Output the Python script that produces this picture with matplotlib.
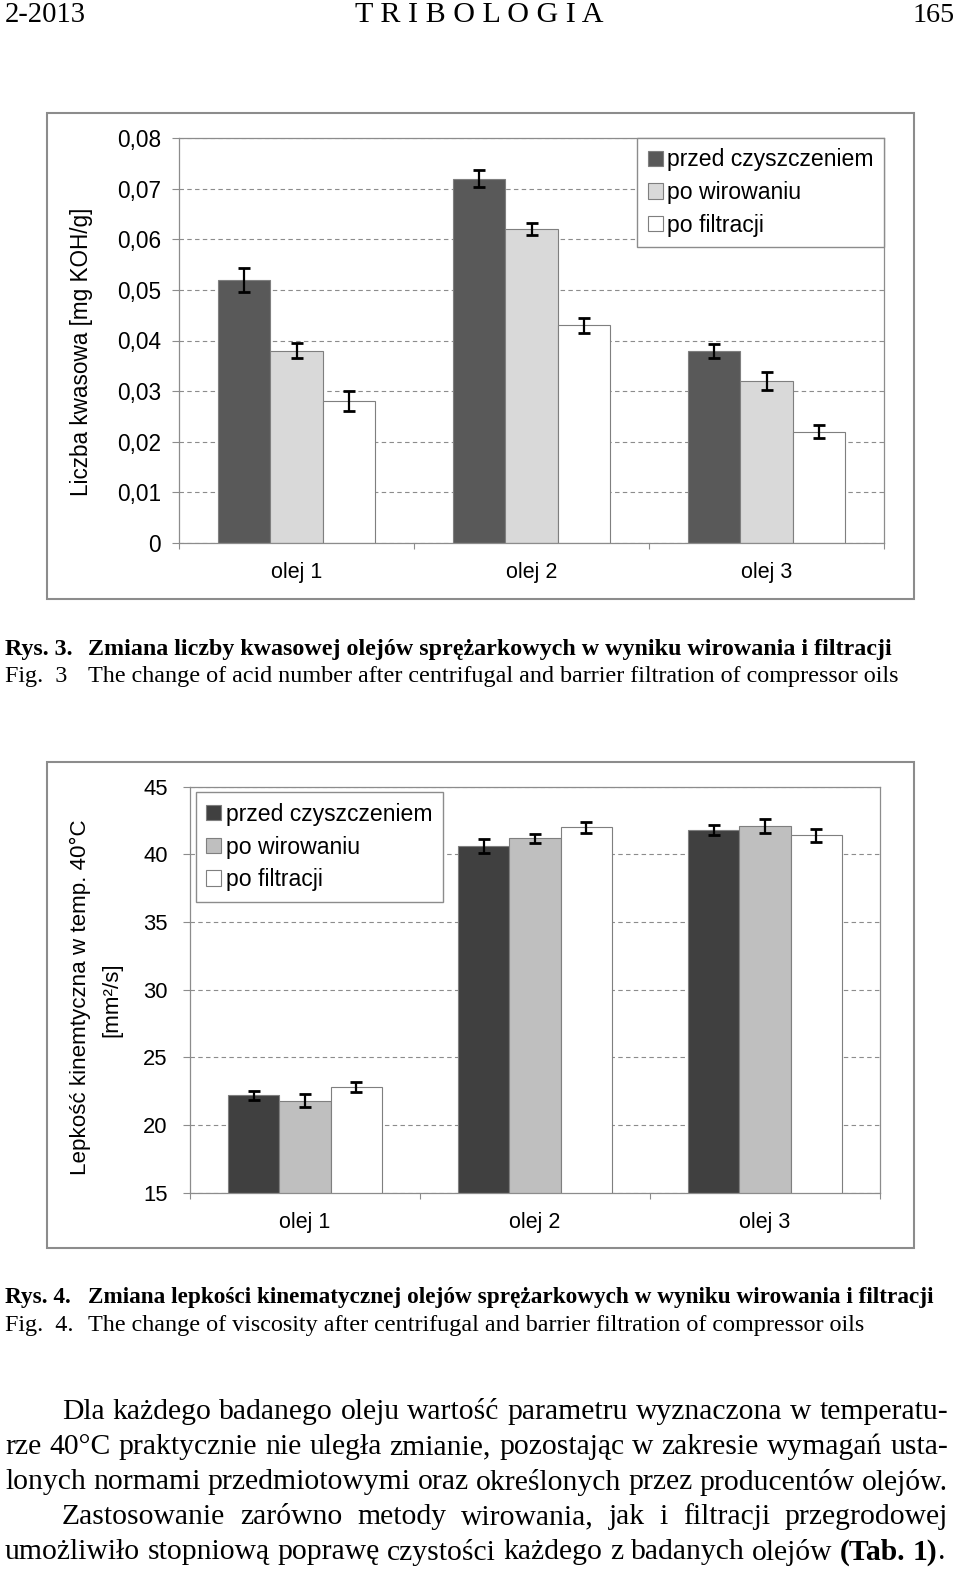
import matplotlib
matplotlib.use("Agg")
import matplotlib.pyplot as plt
from matplotlib.patches import Rectangle
import numpy as np

plt.rcParams["font.family"] = ["Liberation Sans", "DejaVu Sans"]

W, H, DPI = 960, 1569, 100

oils = ["olej 1", "olej 2", "olej 3"]
series = ["przed czyszczeniem", "po wirowaniu", "po filtracji"]

# Rys. 3 - acid number [mg KOH/g]
acid_before = [0.052, 0.072, 0.038]
acid_centrifuged = [0.038, 0.062, 0.032]
acid_filtered = [0.028, 0.043, 0.022]
acid_err_before = [0.0024, 0.0016, 0.0014]
acid_err_centrifuged = [0.0015, 0.0012, 0.0018]
acid_err_filtered = [0.0020, 0.0015, 0.0013]
acid_ticks = [0, 0.01, 0.02, 0.03, 0.04, 0.05, 0.06, 0.07, 0.08]
acid_ticklabels = ["0", "0,01", "0,02", "0,03", "0,04", "0,05", "0,06", "0,07", "0,08"]

# Rys. 4 - kinematic viscosity at 40 C [mm2/s]
visc_before = [22.2, 40.6, 41.8]
visc_centrifuged = [21.8, 41.2, 42.1]
visc_filtered = [22.8, 42.0, 41.4]
visc_err_before = [0.35, 0.5, 0.4]
visc_err_centrifuged = [0.5, 0.33, 0.53]
visc_err_filtered = [0.37, 0.4, 0.47]
visc_ticks = [15, 20, 25, 30, 35, 40, 45]
visc_ticklabels = ["15", "20", "25", "30", "35", "40", "45"]

body_lines = [
    "Dla każdego badanego oleju wartość parametru wyznaczona w temperatu-",
    "rze 40°C praktycznie nie uległa zmianie, pozostając w zakresie wymagań usta-",
    "lonych normami przedmiotowymi oraz określonych przez producentów olejów.",
    "Zastosowanie zarówno metody wirowania, jak i filtracji przegrodowej",
    "umożliwiło stopniową poprawę czystości każdego z badanych olejów",
]

fig = plt.figure(figsize=(W / DPI, H / DPI), dpi=DPI)
fig.patch.set_facecolor("white")
renderer = fig.canvas.get_renderer()


def fx(px):
    return px / W


def fy(py):
    return 1 - py / H


def fit_text(x, y, s, length, size=16, rotation=0, **kw):
    t = fig.text(fx(x), fy(y), s, fontsize=size, rotation=rotation, **kw)
    bb = t.get_window_extent(renderer)
    cur = bb.height if rotation else bb.width
    t.set_fontsize(size * length / cur)
    return t


def justify(x0, x1, y, words, size):
    parts = []
    for word in words:
        row = []
        for s, wt in word:
            t = fig.text(0, fy(y), s, fontsize=size, weight=wt, va="center",
                         family="Liberation Serif")
            row.append((t, t.get_window_extent(renderer).width))
        parts.append(row)
    total = sum(w for row in parts for _, w in row)
    gap = (x1 - x0 - total) / (len(parts) - 1)
    x = x0
    for row in parts:
        for t, w in row:
            t.set_x(fx(x))
            x += w
        x += gap


def draw_chart(box, frame, values, errors, colors, ylim, ticks, ticklabels,
               ysize, ypad, xpad, legend_kw):
    l, t, r, b = box
    fig.add_artist(Rectangle((fx(frame[0]), fy(frame[3])),
                             fx(frame[2]) - fx(frame[0]), fy(frame[1]) - fy(frame[3]),
                             transform=fig.transFigure, fill=False,
                             edgecolor="#8c8c8c", linewidth=1.5))
    ax = fig.add_axes([fx(l), fy(b), fx(r) - fx(l), fy(t) - fy(b)])
    x = np.arange(len(oils))
    w = 0.222
    for i, (v, e, c) in enumerate(zip(values, errors, colors)):
        ax.bar(x + (i - 1) * w, v, w, color=c, edgecolor="#7f7f7f",
               linewidth=0.8, label=series[i], zorder=2)
        ax.errorbar(x + (i - 1) * w, v, yerr=e, fmt="none", ecolor="black",
                    elinewidth=1.6, capsize=4, capthick=2, zorder=3)
    ax.set_xlim(-0.5, 2.5)
    ax.set_ylim(*ylim)
    ax.set_yticks(ticks)
    ax.set_yticklabels(ticklabels)
    ax.set_xticks([-0.5, 0.5, 1.5, 2.5])
    ax.set_xticklabels([])
    ax.set_xticks(x, minor=True)
    ax.set_xticklabels(oils, minor=True)
    ax.tick_params(axis="y", direction="out", length=5, width=0.8,
                   color="#8c8c8c", labelsize=ysize, pad=ypad)
    ax.tick_params(axis="x", which="major", direction="out", length=4,
                   width=0.8, color="#8c8c8c")
    ax.tick_params(axis="x", which="minor", length=0, labelsize=15.5, pad=xpad)
    ax.yaxis.grid(True, linestyle=(0, (4, 3)), color="#8c8c8c", linewidth=0.8)
    ax.set_axisbelow(True)
    for sp in ax.spines.values():
        sp.set_color("#8c8c8c")
        sp.set_linewidth(0.9)
    leg = ax.legend(frameon=True, fancybox=False, framealpha=1,
                    edgecolor="#8c8c8c", fontsize=16.6, handlelength=0.65,
                    handleheight=0.65, handletextpad=0.2, labelspacing=0.42,
                    borderpad=0.45, **legend_kw)
    leg.get_frame().set_linewidth(1.0)
    return ax


# page header
fit_text(5, 15, "2-2013", 81, size=20, va="center", family="Liberation Serif")
fit_text(479, 15, "T R I B O L O G I A", 249, size=20, ha="center", va="center",
         family="Liberation Serif")
fit_text(955, 15, "165", 42, size=20, ha="right", va="center", family="Liberation Serif")

# Rys. 3
draw_chart((179, 138, 884, 543), (47, 113, 914, 599),
           [acid_before, acid_centrifuged, acid_filtered],
           [acid_err_before, acid_err_centrifuged, acid_err_filtered],
           ["#595959", "#d9d9d9", "#ffffff"], (0, 0.08), acid_ticks, acid_ticklabels,
           ysize=16.3, ypad=8, xpad=14,
           legend_kw=dict(loc="upper right", bbox_to_anchor=(1, 1), borderaxespad=0.0))
fit_text(82, 352, "Liczba kwasowa [mg KOH/g]", 289, rotation=90, ha="center", va="center")

t = fit_text(88, 650, "Zmiana liczby kwasowej olejów sprężarkowych w wyniku wirowania i filtracji",
             805, size=17, va="center", weight="bold", family="Liberation Serif")
fig.text(fx(5), fy(650), "Rys. 3.", fontsize=t.get_fontsize(), va="center",
         weight="bold", family="Liberation Serif")
t = fit_text(88, 677, "The change of acid number after centrifugal and barrier filtration of compressor oils",
             810, size=17, va="center", family="Liberation Serif")
fig.text(fx(5), fy(677), "Fig.  3", fontsize=t.get_fontsize(), va="center",
         family="Liberation Serif")

# Rys. 4
draw_chart((190, 786.7, 880, 1192.7), (47, 762, 914, 1248),
           [visc_before, visc_centrifuged, visc_filtered],
           [visc_err_before, visc_err_centrifuged, visc_err_filtered],
           ["#404040", "#bfbfbf", "#ffffff"], (15, 45), visc_ticks, visc_ticklabels,
           ysize=15.8, ypad=11, xpad=14,
           legend_kw=dict(loc="upper left", bbox_to_anchor=(0, 1), borderaxespad=0.25))
t = fit_text(80, 997, "Lepkość kinemtyczna w temp. 40°C", 355, rotation=90,
             ha="center", va="center")
fig.text(fx(112), fy(1000), "[mm²/s]", fontsize=t.get_fontsize(), rotation=90,
         ha="center", va="center")

t = fit_text(88, 1298, "Zmiana lepkości kinematycznej olejów sprężarkowych w wyniku wirowania i filtracji",
             849, size=17, va="center", weight="bold", family="Liberation Serif")
fig.text(fx(5), fy(1298), "Rys. 4.", fontsize=t.get_fontsize(), va="center",
         weight="bold", family="Liberation Serif")
t = fit_text(88, 1326, "The change of viscosity after centrifugal and barrier filtration of compressor oils",
             776, size=17, va="center", family="Liberation Serif")
fig.text(fx(5), fy(1326), "Fig.  4.", fontsize=t.get_fontsize(), va="center",
         family="Liberation Serif")

# body paragraph, justified
probe = fit_text(0, 0, body_lines[2], 943, size=20, family="Liberation Serif")
body_size = probe.get_fontsize()
probe.remove()

line_y = [1412, 1447, 1482, 1517, 1552]
line_x0 = [62, 5, 5, 62, 5]
line_x1 = [948, 948, 948, 948, 945]
for i, line in enumerate(body_lines):
    words = [[(w, "normal")] for w in line.split()]
    if i == 4:
        words += [[("(Tab.", "bold")], [("1)", "bold"), (".", "normal")]]
    justify(line_x0[i], line_x1[i], line_y[i], words, body_size)

fig.savefig("out.png", dpi=DPI)
